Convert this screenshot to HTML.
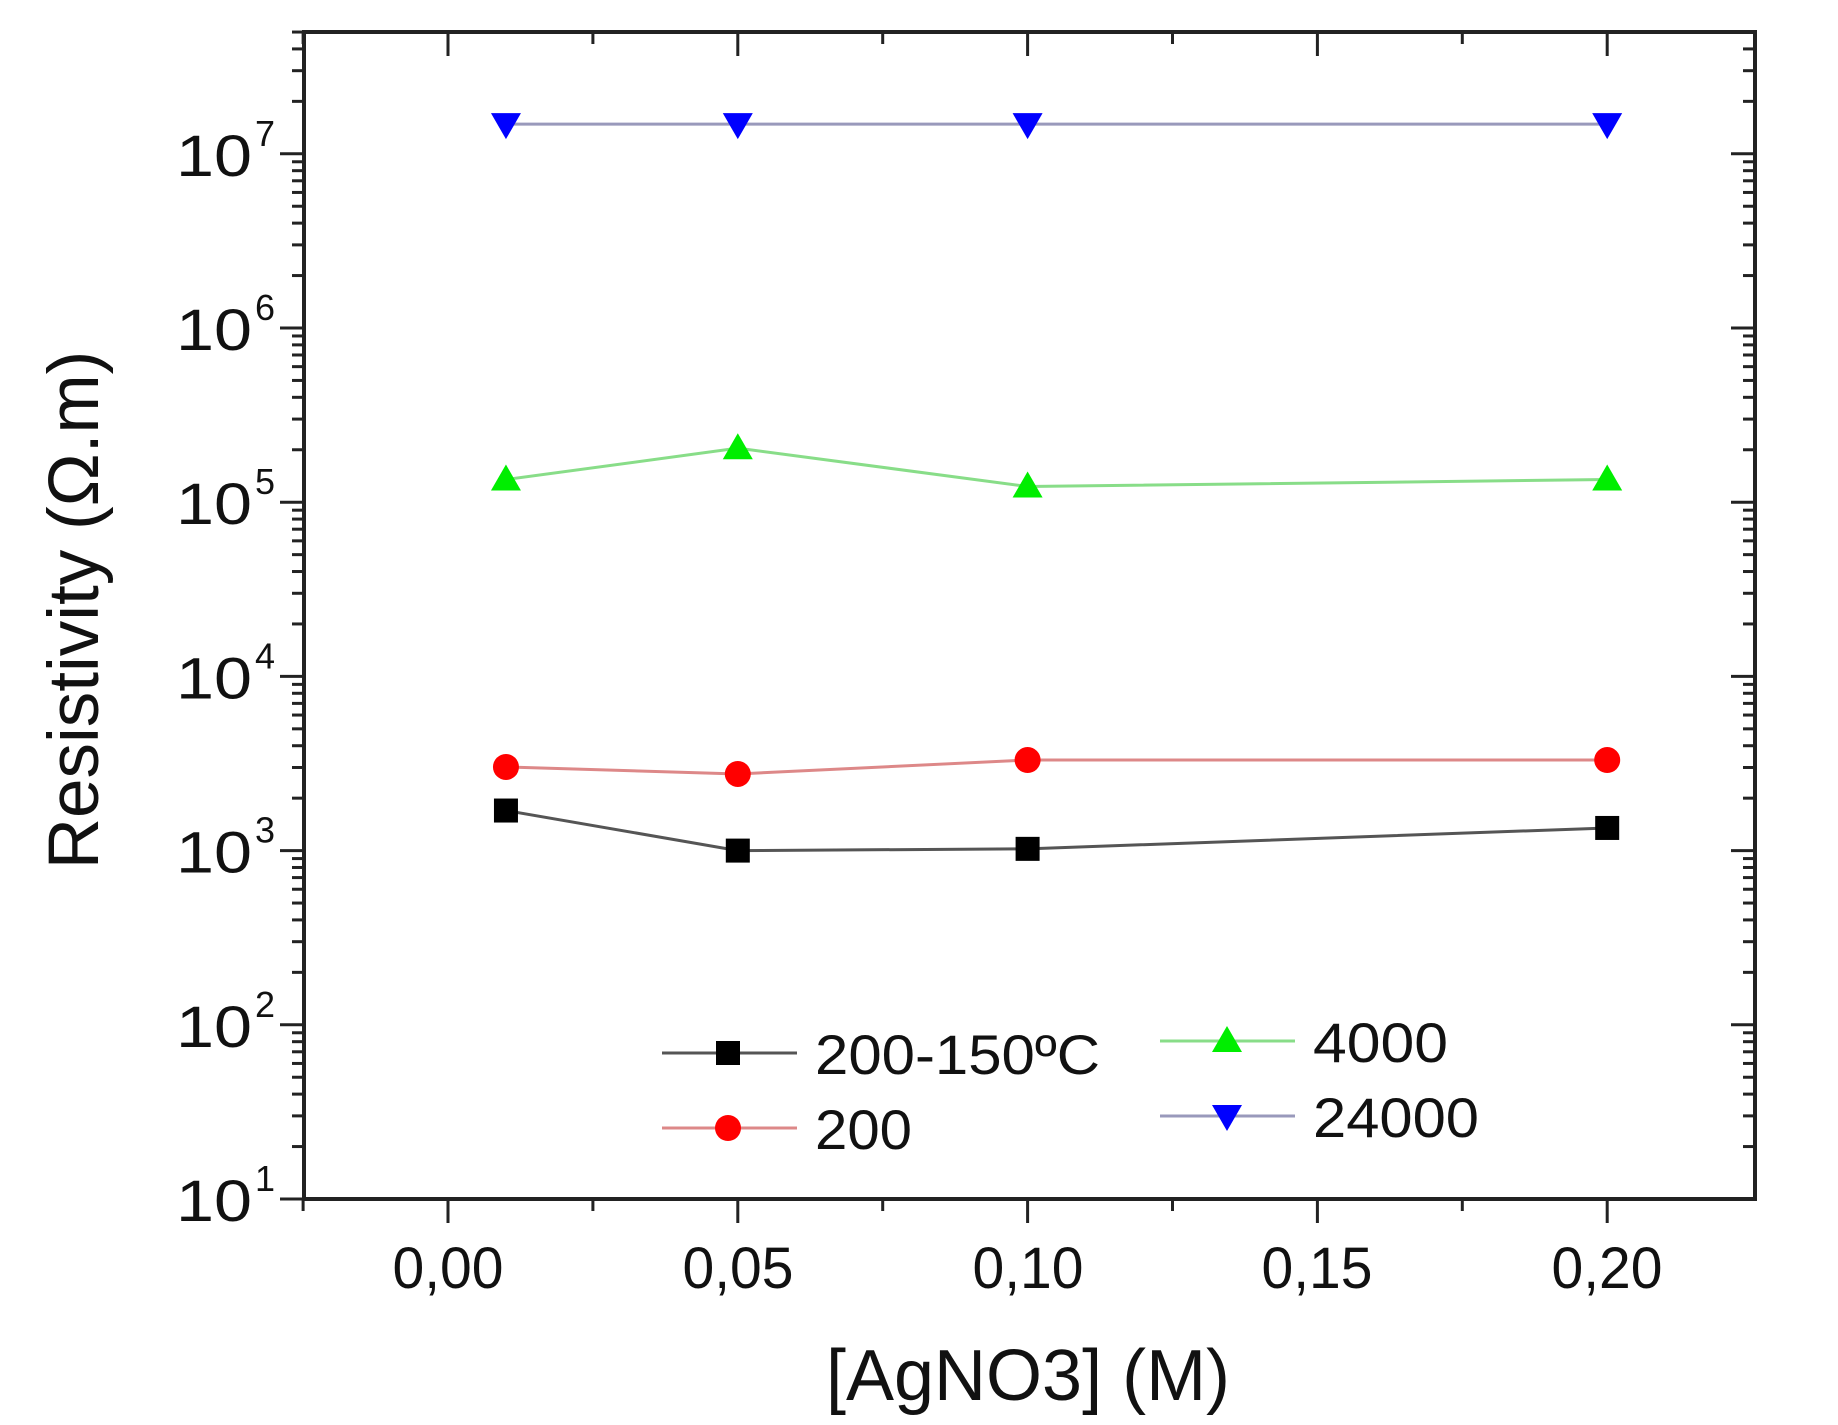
<!DOCTYPE html>
<html><head><meta charset="utf-8"><style>
html,body{margin:0;padding:0;background:#fff;}
svg{display:block;font-family:"Liberation Sans",Arial,sans-serif;}
</style></head><body>
<svg id="s" width="1838" height="1425" viewBox="0 0 1838 1425" xmlns="http://www.w3.org/2000/svg">
<rect width="1838" height="1425" fill="#fff"/>
<g id="ticks" stroke="#222" stroke-width="3"></g>
<rect x="304" y="32" width="1451" height="1167" fill="none" stroke="#222" stroke-width="4"/>
<g id="series"></g>
<g font-size="58" fill="#111" text-anchor="middle">
<text x="448" y="1288" textLength="111" lengthAdjust="spacingAndGlyphs">0,00</text>
<text x="738" y="1288" textLength="111" lengthAdjust="spacingAndGlyphs">0,05</text>
<text x="1028" y="1288" textLength="111" lengthAdjust="spacingAndGlyphs">0,10</text>
<text x="1317" y="1288" textLength="111" lengthAdjust="spacingAndGlyphs">0,15</text>
<text x="1607" y="1288" textLength="111" lengthAdjust="spacingAndGlyphs">0,20</text>
</g>
<g id="ylab" font-size="58" fill="#111"></g>
<text x="1028" y="1400" font-size="72" text-anchor="middle" fill="#111">[AgNO3] (M)</text>
<text transform="translate(98,610) rotate(-90)" font-size="71" text-anchor="middle" fill="#111">Resistivity (Ω.m)</text>
<g id="legend"></g>
</svg>
<script>
const NS="http://www.w3.org/2000/svg";
function el(p,t,a){const e=document.createElementNS(NS,t);for(const k in a)e.setAttribute(k,a[k]);p.appendChild(e);return e;}
const X=v=>448+v*5796, Y=l=>1199-(l-1)*174.2;
const T=document.getElementById('ticks');
for(let d=1;d<=7;d++){
 for(let m=1;m<=9;m++){
  const l=d+Math.log10(m); if(l>7.7)break;
  const y=Y(l), len=m==1?24:12;
  el(T,'line',{x1:304-len,y1:y,x2:304,y2:y});
  el(T,'line',{x1:1755,y1:y,x2:1755-len,y2:y});
 }
}
for(let i=0;i<=9;i++){
 const v=-0.025+i*0.025; const x=X(v); if(x<300||x>1760)continue;
 const maj=Math.abs(Math.round(v*1000)%50)<1;
 el(T,'line',{x1:x,y1:1199,x2:x,y2:1199+(maj?24:12)});
 el(T,'line',{x1:x,y1:32,x2:x,y2:32+(maj?24:12)});
}
const YL=document.getElementById('ylab');
for(let d=1;d<=7;d++){
 const y=Y(d)+22;
 const t=el(YL,'text',{x:176,y:y,textLength:76,lengthAdjust:'spacingAndGlyphs'});t.textContent='10';
 const s=el(YL,'text',{x:255,y:y-30,'font-size':36});s.textContent=d;
}
const S=document.getElementById('series');
const xs=[0.01,0.05,0.10,0.20];
const data=[
 {c:'#555',m:'#000',sh:'sq',v:[3.23,3.0,3.01,3.13]},
 {c:'#d88',m:'#f00',sh:'ci',v:[3.48,3.44,3.52,3.52]},
 {c:'#8d8',m:'#0e0',sh:'up',v:[5.13,5.31,5.09,5.13]},
 {c:'#99b',m:'#00f',sh:'dn',v:[7.17,7.17,7.17,7.17]}];
function marker(g,sh,x,y,col){
 if(sh=='sq')el(g,'rect',{x:x-12,y:y-12,width:24,height:24,fill:col});
 if(sh=='ci')el(g,'circle',{cx:x,cy:y,r:13,fill:col});
 if(sh=='up')el(g,'polygon',{points:`${x},${y-15} ${x+15},${y+11} ${x-15},${y+11}`,fill:col});
 if(sh=='dn')el(g,'polygon',{points:`${x},${y+15} ${x+15},${y-11} ${x-15},${y-11}`,fill:col});
}
data.forEach(s=>{
 const pts=xs.map((x,i)=>X(x)+','+Y(s.v[i])).join(' ');
 el(S,'polyline',{points:pts,fill:'none',stroke:s.c,'stroke-width':3});
 xs.forEach((x,i)=>marker(S,s.sh,X(x),Y(s.v[i]),s.m));
});
const L=document.getElementById('legend');
const leg=[[662,797,728,1053,815,'200-150ºC',0,285],[662,797,728,1128,815,'200',1,97],[1160,1295,1227,1041,1313,'4000',2,135],[1160,1295,1227,1116,1313,'24000',3,166]];
leg.forEach(a=>{
 const s=data[a[6]];
 el(L,'line',{x1:a[0],y1:a[3],x2:a[1],y2:a[3],stroke:s.c,'stroke-width':3});
 marker(L,s.sh,a[2],a[3],s.m);
 const t=el(L,'text',{x:a[4],y:a[3]+21,'font-size':56,fill:'#111',textLength:a[7],lengthAdjust:'spacingAndGlyphs'});t.textContent=a[5];
});
</script>
</body></html>
